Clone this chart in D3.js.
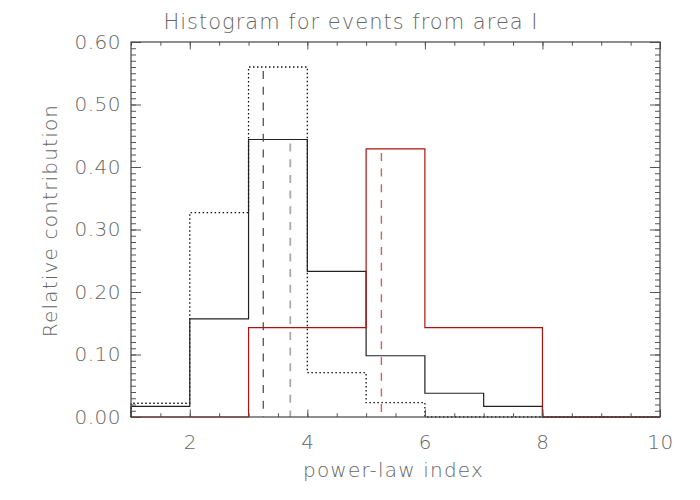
<!DOCTYPE html>
<html>
<head>
<meta charset="utf-8">
<script src="https://cdn.jsdelivr.net/npm/d3@7"></script>
<style>
  body { margin: 0; background: #fff; }
  text { font-family: "DejaVu Sans", sans-serif; font-weight: 200; fill: #666; }
</style>
</head>
<body>
<svg id="chart" width="700" height="500"></svg>
<script>
// bin edges 1..10, width 1
var binEdges = [1, 2, 3, 4, 5, 6, 7, 8, 9, 10];
var solidValues = [0.017, 0.157, 0.444, 0.233, 0.098, 0.038, 0.017, 0, 0];
var dottedValues = [0.022, 0.327, 0.56, 0.071, 0.023, 0, 0, 0, 0];
var redValues = [0, 0, 0.143, 0.143, 0.429, 0.143, 0.143, 0, 0];

// mean markers: position and height of each dashed line
var meanLines = [
    { x: 3.25, top: 0.56, color: '#444', width: 1.2 },
    { x: 3.71, top: 0.444, color: '#aaa', width: 1.8 },
    { x: 5.26, top: 0.429, color: '#d06060', width: 1.4 }
];

var xTicks = [2, 4, 6, 8, 10];
var yTicks = [0, 0.1, 0.2, 0.3, 0.4, 0.5, 0.6];

var margin = { top: 42, right: 40, bottom: 83, left: 131 };
var width = 700 - margin.left - margin.right;
var height = 500 - margin.top - margin.bottom;

var svg = d3.select('#chart');
var g = svg.append('g')
    .attr('transform', 'translate(' + margin.left + ',' + margin.top + ')');

var x = d3.scaleLinear().domain([1, 10]).range([0, width]);
var y = d3.scaleLinear().domain([0, 0.6]).range([height, 0]);

// build step outline from bin values
function stepPoints(values) {
    var pts = [[binEdges[0], 0]];
    values.forEach(function(v, i) {
        pts.push([binEdges[i], v]);
        pts.push([binEdges[i + 1], v]);
    });
    pts.push([binEdges[binEdges.length - 1], 0]);
    return pts;
}

var line = d3.line()
    .x(function(d) { return x(d[0]); })
    .y(function(d) { return y(d[1]); });

g.append('path')
    .attr('d', line(stepPoints(dottedValues)))
    .attr('fill', 'none')
    .attr('stroke', '#111')
    .attr('stroke-width', 1.3)
    .attr('stroke-dasharray', '1.5,2.5');

g.append('path')
    .attr('d', line(stepPoints(solidValues)))
    .attr('fill', 'none')
    .attr('stroke', '#222')
    .attr('stroke-width', 1.2);

g.append('path')
    .attr('d', line(stepPoints(redValues)))
    .attr('fill', 'none')
    .attr('stroke', '#b01010')
    .attr('stroke-width', 1.2);

g.selectAll('line.mean')
    .data(meanLines)
    .enter()
    .append('line')
    .attr('class', 'mean')
    .attr('x1', function(d) { return x(d.x); })
    .attr('x2', function(d) { return x(d.x); })
    .attr('y1', function(d) { return y(d.top); })
    .attr('y2', y(0))
    .attr('stroke', function(d) { return d.color; })
    .attr('stroke-width', function(d) { return d.width; })
    .attr('stroke-dasharray', '8,7.7')
    .attr('stroke-dashoffset', -4);

// axes: ticks pointing inward, IDL style
var axisColor = '#555';
var xMinor = d3.range(1, 10.01, 0.5);
var yMinor = d3.range(0, 0.6001, 0.01);

var axBottom = g.append('g').attr('transform', 'translate(0,' + height + ')')
    .call(d3.axisBottom(x).tickValues(xMinor).tickSize(-3.75).tickFormat(''));
var axBottomMajor = g.append('g').attr('transform', 'translate(0,' + height + ')')
    .call(d3.axisBottom(x).tickValues(xTicks).tickSize(-7.5)
        .tickFormat(d3.format('d')));
var axTop = g.append('g')
    .call(d3.axisTop(x).tickValues(xMinor).tickSize(-3.75).tickFormat(''));
var axTopMajor = g.append('g')
    .call(d3.axisTop(x).tickValues(xTicks).tickSize(-7.5).tickFormat(''));

var axLeft = g.append('g')
    .call(d3.axisLeft(y).tickValues(yMinor).tickSize(-5).tickFormat(''));
var axLeftMajor = g.append('g')
    .call(d3.axisLeft(y).tickValues(yTicks).tickSize(-10).tickPadding(7)
        .tickFormat(d3.format('.2f')));
var axRight = g.append('g').attr('transform', 'translate(' + width + ',0)')
    .call(d3.axisRight(y).tickValues(yMinor).tickSize(-5).tickFormat(''));
var axRightMajor = g.append('g').attr('transform', 'translate(' + width + ',0)')
    .call(d3.axisRight(y).tickValues(yTicks).tickSize(-10).tickFormat(''));

[axBottom, axBottomMajor, axTop, axTopMajor, axLeft, axLeftMajor, axRight, axRightMajor].forEach(function(a) {
    a.selectAll('.domain').remove();
    a.selectAll('line').attr('stroke', axisColor);
    a.selectAll('text').attr('fill', '#666').style('font-size', '20px')
        .style('font-family', '"DejaVu Sans", sans-serif').style('font-weight', 200)
        .style('letter-spacing', '0.5px');
});
axBottomMajor.selectAll('text').attr('dy', '0.35em').attr('y', 25);
axLeftMajor.selectAll('text').attr('x', -10);

// frame
g.append('rect')
    .attr('width', width)
    .attr('height', height)
    .attr('fill', 'none')
    .attr('stroke', '#444')
    .attr('stroke-width', 1.2);

svg.append('text')
    .attr('x', 351)
    .attr('y', 29)
    .attr('text-anchor', 'middle')
    .style('font-size', '21px')
    .style('letter-spacing', '1px')
    .text('Histogram for events from area I');

svg.append('text')
    .attr('x', margin.left + width / 2 - 2)
    .attr('y', 477)
    .attr('text-anchor', 'middle')
    .style('font-size', '20px')
    .style('letter-spacing', '1.2px')
    .text('power-law index');

svg.append('text')
    .attr('transform', 'translate(57,' + (margin.top + height / 2 - 9) + ') rotate(-90)')
    .attr('text-anchor', 'middle')
    .style('font-size', '20px')
    .style('letter-spacing', '1.2px')
    .text('Relative contribution');
</script>
</body>
</html>
